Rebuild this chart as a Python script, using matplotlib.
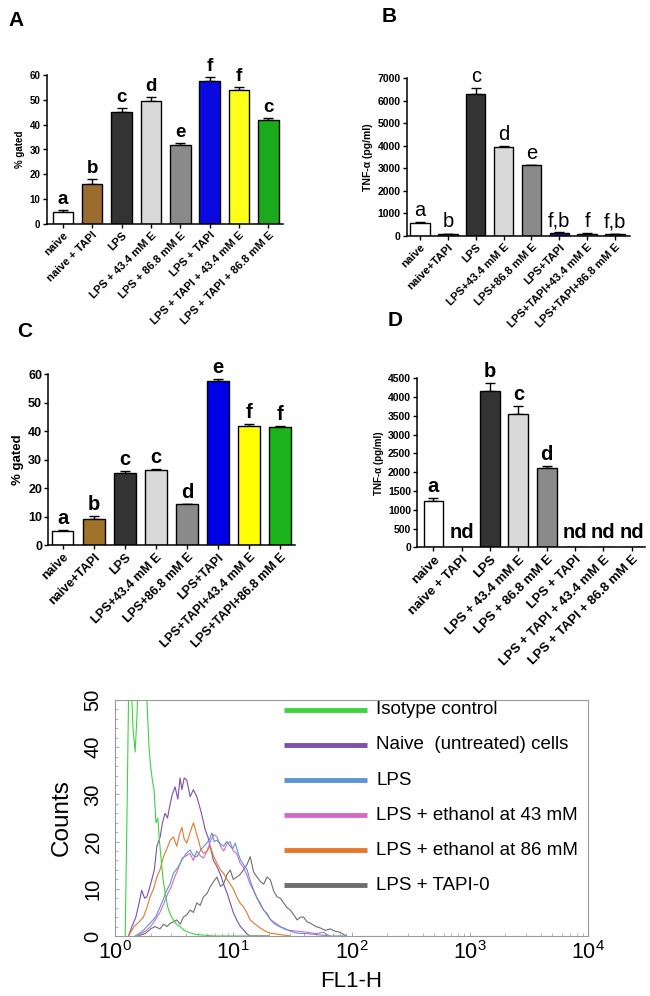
import matplotlib

matplotlib.use("Agg")
import matplotlib.pyplot as plt
import numpy as np

plt.rcParams["font.family"] = ["Liberation Sans", "DejaVu Sans"]
plt.rcParams["mathtext.fontset"] = "custom"
plt.rcParams["mathtext.rm"] = "Liberation Sans"
plt.rcParams["mathtext.it"] = "Liberation Sans:italic"
plt.rcParams["mathtext.bf"] = "Liberation Sans:bold"

# bar panels
labels_plus = ["naive", "naive + TAPI", "LPS", "LPS + 43.4 mM E", "LPS + 86.8 mM E",
               "LPS + TAPI", "LPS + TAPI + 43.4 mM E", "LPS + TAPI + 86.8 mM E"]
labels_tight = ["naive", "naive+TAPI", "LPS", "LPS+43.4 mM E", "LPS+86.8 mM E",
                "LPS+TAPI", "LPS+TAPI+43.4 mM E", "LPS+TAPI+86.8 mM E"]

a_values = [5.0, 16.0, 45.0, 49.5, 32.0, 57.5, 54.0, 42.0]
a_errors = [0.5, 2.0, 1.6, 1.5, 0.7, 1.7, 1.2, 0.8]
a_letters = ["a", "b", "c", "d", "e", "f", "f", "c"]
a_colors = ["white", "#9c6b2e", "#333333", "#d9d9d9", "#8a8a8a", "#0a0ae0", "#ffff1a", "#1aaa1a"]

b_values = [570, 100, 6320, 3970, 3130, 150, 110, 80]
b_errors = [30, 10, 230, 30, 30, 15, 10, 10]
b_letters = ["a", "b", "c", "d", "e", "f,b", "f", "f,b"]
b_colors = ["white", "#8b6d3c", "#333333", "#d9d9d9", "#8a8a8a", "#1c1c9c", "#e8e05a", "#2a8a2a"]

c_values = [4.8, 9.2, 25.2, 26.4, 14.3, 57.8, 41.8, 41.5]
c_errors = [0.4, 1.0, 0.7, 0.3, 0.2, 0.5, 0.6, 0.3]
c_letters = ["a", "b", "c", "c", "d", "e", "f", "f"]
c_colors = ["white", "#a0722a", "#333333", "#d9d9d9", "#8a8a8a", "#0000e6", "#ffff00", "#1db31d"]

d_values = [1230, np.nan, 4170, 3560, 2110, np.nan, np.nan, np.nan]
d_errors = [70, 0, 200, 190, 60, 0, 0, 0]
d_letters = ["a", "nd", "b", "c", "d", "nd", "nd", "nd"]
d_colors = ["white", "white", "#333333", "#d9d9d9", "#8a8a8a", "white", "white", "white"]

# flow cytometry histogram (FL1-H, counts)
iso_x = [1.22, 1.27, 1.31, 1.36, 1.42, 1.48, 1.53, 1.58, 1.66, 1.76, 1.86, 1.94, 2.00, 2.07, 2.14,
         2.22, 2.30, 2.38, 2.46, 2.55, 2.66, 2.80, 2.95, 3.10, 3.30, 3.55, 3.85, 4.2, 4.7, 5.5, 7, 10, 20]
iso_y = [0, 30, 56, 56, 44, 39, 46, 56, 56, 56, 50, 40, 36, 33, 31,
         24, 25, 20, 16, 12, 9, 6, 4.5, 3.5, 2.5, 2, 1.2, 0.8, 0.4, 0.2, 0, 0, 0]

naive_x = [1.30, 1.39, 1.50, 1.60, 1.68, 1.78, 1.86, 1.95, 2.05, 2.15, 2.26, 2.41, 2.52, 2.65, 2.78,
           2.93, 3.05, 3.22, 3.40, 3.55, 3.68, 3.85, 4.05, 4.32, 4.6, 4.92, 5.25, 5.5, 5.79, 6.1,
           6.38, 6.8, 7.28, 7.8, 8.28, 8.9, 9.43, 10.0, 10.7, 11.5, 12.2, 13.0, 13.9, 16, 20]
naive_y = [0, 2, 4, 7, 9.7, 8, 8.3, 10, 12, 14, 19, 21, 24, 26, 25,
           28, 30, 31.6, 29, 33.5, 31, 33.5, 33, 29.5, 31, 29.5, 27, 25, 22.5, 21,
           19, 16, 14.7, 13, 11, 9, 7, 5, 3.4, 2, 1.3, 0.5, 0, 0, 0]

lps_x = [1.48, 1.7, 1.98, 2.2, 2.41, 2.58, 2.74, 2.92, 3.12, 3.4, 3.68, 4.0, 4.32, 4.6, 4.92, 5.4,
         5.98, 6.3, 6.60, 6.9, 7.28, 7.8, 8.28, 8.8, 9.43, 9.9, 10.4, 11.0, 11.5, 12.3, 13.1, 14.0,
         14.9, 15.9, 16.9, 18.0, 19.3, 20.6, 22.0, 24.5, 26.7, 30.5, 34.7, 42, 51, 66, 90]
lps_y = [0, 1, 2.7, 4, 6.2, 8, 9.7, 11, 13.3, 14.5, 16.1, 17.5, 18.2, 17, 16.8, 18.5,
         19.7, 20.5, 21.8, 20, 20.3, 19.5, 19, 20, 19, 18.5, 19.7, 17.5, 16.1, 15, 14, 11.5,
         9.7, 8, 7, 5.5, 4.8, 3.5, 2.7, 2, 1.7, 1, 0.6, 0.5, 0.3, 0, 0]

e43_x = [1.55, 1.8, 2.0, 2.2, 2.4, 2.6, 2.8, 3.0, 3.2, 3.45, 3.7, 4.0, 4.3, 4.6, 4.9, 5.25, 5.6,
         6.0, 6.4, 6.85, 7.3, 7.8, 8.3, 8.85, 9.4, 10.0, 10.7, 11.4, 12.2, 13.0, 13.9, 14.9, 15.9,
         17.0, 18.1, 19.3, 20.6, 23.5, 26.7, 30, 35, 42, 50, 58, 65]
e43_y = [0, 1, 2, 3.5, 5, 7, 9, 10.5, 12.5, 14.5, 16.5, 17, 17.5, 16, 18, 17, 16.5,
         18, 20, 21.5, 21, 19, 18, 19.5, 20, 18, 17.5, 15.5, 14.5, 13, 11, 9.5, 8,
         6.5, 5.5, 4.5, 3.5, 2.5, 1.5, 1.2, 1, 0.8, 0.5, 0.8, 0]

e86_x = [1.30, 1.45, 1.6, 1.74, 1.86, 1.98, 2.12, 2.26, 2.4, 2.57, 2.75, 2.93, 3.12, 3.33, 3.5,
         3.68, 3.85, 4.05, 4.32, 4.61, 4.85, 5.08, 5.3, 5.60, 6.0, 6.38, 6.8, 7.28, 7.8, 8.28,
         8.85, 9.43, 10.0, 10.7, 11.4, 12.2, 13.0, 13.9, 15.3, 16.9, 18.7, 20.6, 25, 30.4]
e86_y = [0, 2, 3, 4, 6, 8.3, 10, 12.5, 14, 16.8, 18.5, 20.3, 21, 19, 21.5,
         23, 20.5, 19.7, 22, 24, 22, 20.3, 18.5, 17.5, 18, 19, 17, 15.4, 14, 13.3,
         12, 11, 10, 8.3, 7, 6.2, 5, 3.4, 2.5, 1.7, 1, 0.6, 0.3, 0]

tapi_x = [1.55, 1.80, 2.0, 2.18, 2.4, 2.57, 2.75, 2.93, 3.12, 3.33, 3.55, 3.79, 4.05, 4.32, 4.6,
          4.92, 5.25, 5.60, 6.0, 6.38, 6.8, 7.28, 7.8, 8.28, 8.85, 9.43, 10.0, 10.7, 11.4, 12.2,
          13.0, 13.9, 14.9, 15.9, 17.0, 18.1, 19.3, 20.6, 22.0, 23.5, 25.0, 26.7, 28.5, 30.4,
          32.5, 34.7, 37, 39.4, 42, 45, 50, 54.6, 60, 66, 73, 80, 90]
tapi_y = [0, 0.5, 1.5, 2, 1.5, 2.5, 2, 2.7, 3, 3.4, 2.5, 4, 4.5, 5.5, 5,
          7, 6.5, 8.3, 9, 10.4, 11.5, 12.5, 10.5, 11, 13, 14, 12, 12.5, 13, 14,
          15, 16.8, 13.5, 12.5, 11.5, 11, 12.5, 11.9, 9.5, 8.3, 8, 7, 6, 5.5,
          4.5, 3.4, 4, 4, 3, 2.7, 2, 1.7, 1.2, 1.5, 1, 0.8, 0]

hist_names = ["Isotype control", "Naive  (untreated) cells", "LPS", "LPS + ethanol at 43 mM",
              "LPS + ethanol at 86 mM", "LPS + TAPI-0"]
hist_colors = ["#3fd43f", "#7e4fae", "#5b95d6", "#d46ac8", "#e8772e", "#6e6e6e"]


def draw_bars(ax, values, errors, colors, letters, labels, ymax, ystep, ylabel,
              tick_size, label_size, ylabel_size, letter_size, letter_weight, xlim):
    x = np.arange(len(values))
    heights = np.nan_to_num(np.asarray(values, dtype=float))
    ax.bar(x, heights, width=0.7, color=colors, edgecolor="black", linewidth=1.0, zorder=2)
    has_bar = ~np.isnan(np.asarray(values, dtype=float))
    ax.errorbar(x[has_bar], heights[has_bar],
                yerr=[np.zeros(has_bar.sum()), np.asarray(errors, dtype=float)[has_bar]],
                fmt="none", ecolor="black", elinewidth=1.0, capsize=3.5, capthick=1.0, zorder=1)
    for i, letter in enumerate(letters):
        if has_bar[i]:
            ax.annotate(letter, (x[i], heights[i] + errors[i]), xytext=(0, 1.5), textcoords="offset points",
                        ha="center", va="bottom", fontsize=letter_size, fontweight=letter_weight)
        else:
            ax.annotate(letter, (x[i], 0), xytext=(0, 4), textcoords="offset points",
                        ha="center", va="bottom", fontsize=letter_size, fontweight=letter_weight)
    ax.set_xlim(*xlim)
    ax.set_ylim(0, ymax)
    ax.set_yticks(np.arange(0, ymax + ystep / 2, ystep))
    ax.set_xticks(x)
    ax.set_xticklabels(labels, rotation=45, ha="right", va="top", rotation_mode="anchor",
                       fontsize=label_size, fontweight="bold")
    for t in ax.get_yticklabels():
        t.set_fontsize(tick_size)
        t.set_fontweight("bold")
    ax.set_ylabel(ylabel, fontsize=ylabel_size, fontweight="bold", labelpad=3)
    for side in ("top", "right"):
        ax.spines[side].set_visible(False)
    for side in ("left", "bottom"):
        ax.spines[side].set_linewidth(1.1)
    ax.tick_params(axis="both", direction="out", length=3, width=1.0, pad=1.5)


W, H = 650.0, 996.0


def box(left, top, right, bottom):
    return [left / W, 1 - bottom / H, (right - left) / W, (bottom - top) / H]


fig = plt.figure(figsize=(6.5, 9.96), dpi=100)

ax_a = fig.add_axes(box(46.7, 75, 283, 224))
draw_bars(ax_a, a_values, a_errors, a_colors, a_letters, labels_plus, 60, 10, "% gated",
          7, 8, 7, 13.5, "bold", (-0.55, 7.5))

ax_b = fig.add_axes(box(406.7, 78.3, 630, 236))
draw_bars(ax_b, b_values, b_errors, b_colors, b_letters, labels_tight, 7000, 1000, "TNF-α (pg/ml)",
          7.5, 8, 7.5, 14.5, "normal", (-0.48, 7.54))

ax_c = fig.add_axes(box(48.3, 374.3, 295, 545))
draw_bars(ax_c, c_values, c_errors, c_colors, c_letters, labels_tight, 60, 10, "% gated",
          9, 9, 9.5, 14.5, "bold", (-0.46, 7.48))

ax_d = fig.add_axes(box(417.3, 378.3, 645, 547.3))
draw_bars(ax_d, d_values, d_errors, d_colors, d_letters, labels_plus, 4500, 500, "TNF-α (pg/ml)",
          7.5, 9.5, 7, 14.5, "bold", (-0.57, 7.47))

for letter, px, py in (("A", 16, 20), ("B", 389, 17), ("C", 25, 331), ("D", 395, 321)):
    fig.text(px / W, 1 - py / H, letter, fontsize=15, fontweight="bold", ha="center", va="center")

# histogram
ax_h = fig.add_axes(box(115, 700, 588, 936))
series = [(iso_x, iso_y), (naive_x, naive_y), (lps_x, lps_y), (e43_x, e43_y), (e86_x, e86_y), (tapi_x, tapi_y)]
draw_order = [5, 1, 3, 2, 4, 0]
for idx in draw_order:
    xs, ys = series[idx]
    ax_h.plot(xs, ys, color=hist_colors[idx], linewidth=0.8, zorder=2)
ax_h.set_xscale("log")
ax_h.set_xlim(1, 1e4)
ax_h.set_ylim(0, 50)
ax_h.set_yticks([0, 10, 20, 30, 40, 50])
ax_h.set_yticks(np.arange(0, 51, 2), minor=True)
for t in ax_h.get_yticklabels():
    t.set_rotation(90)
    t.set_va("center")
ax_h.tick_params(axis="both", which="major", direction="in", length=3, width=0.6, color="#999999", labelsize=15.5)
ax_h.tick_params(axis="x", which="major", pad=4)
ax_h.tick_params(axis="y", which="major", pad=9, labelsize=14.5)
ax_h.tick_params(axis="both", which="minor", direction="in", length=2, width=0.5, color="#999999")
for spine in ax_h.spines.values():
    spine.set_color("#999999")
    spine.set_linewidth(0.8)
ax_h.set_ylabel("Counts", fontsize=17.5, labelpad=8)
ax_h.set_xlabel("FL1-H", fontsize=16, labelpad=5)

row_top = 0.958
row_step = 0.1485
for i, name in enumerate(hist_names):
    yy = row_top - i * row_step
    ax_h.plot([0.357, 0.533], [yy, yy], transform=ax_h.transAxes, color=hist_colors[i], linewidth=3.5,
              solid_capstyle="butt", zorder=3)
    ax_h.text(0.552, yy, name, transform=ax_h.transAxes, fontsize=13.5, va="center", ha="left")

fig.savefig("out.png", dpi=100)
